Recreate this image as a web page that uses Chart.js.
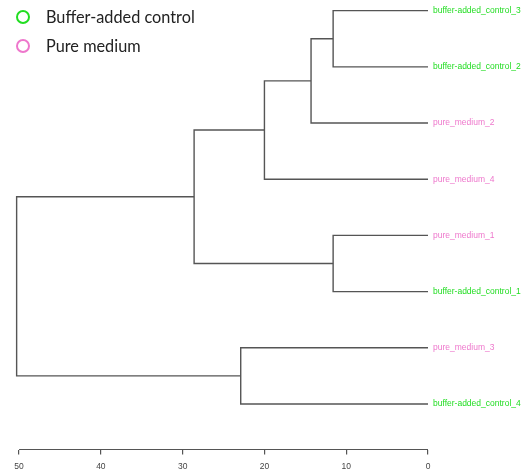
<!DOCTYPE html>
<html>
<head>
<meta charset="utf-8">
<script src="https://cdn.jsdelivr.net/npm/chart.js@4/dist/chart.umd.min.js"></script>
<style>
  body { margin: 0; background: #fff; }
  #wrap { position: relative; width: 529px; height: 475px; }
  #legend { position: absolute; left: 16px; top: 2px; font-family: Lato, "Open Sans", sans-serif; font-size: 16.3px; color: #222; }
  .item { display: flex; align-items: center; height: 29px; }
  .dot { width: 10px; height: 10px; border-radius: 50%; border: 2.2px solid; margin-right: 16px; }
</style>
</head>
<body>
<div id="wrap">
  <canvas id="dendro" width="529" height="475"></canvas>
  <div id="legend">
    <div class="item"><span class="dot" style="border-color:#22dd22"></span>Buffer-added control</div>
    <div class="item"><span class="dot" style="border-color:#ee77cc"></span>Pure medium</div>
  </div>
</div>
<script>
// leaves, top to bottom
const leaves = ['buffer-added_control_3', 'buffer-added_control_2', 'pure_medium_2', 'pure_medium_4',
                'pure_medium_1', 'buffer-added_control_1', 'pure_medium_3', 'buffer-added_control_4'];
const leafGroup = ['control', 'control', 'medium', 'medium', 'medium', 'control', 'medium', 'control'];
// merges, hclust style: negative = leaf (1-based), positive = earlier merge
const mergeLeft = [-1, 1, 2, -5, 3, -7, 5];
const mergeRight = [-2, -3, -4, -6, 4, -8, 6];
const mergeHeight = [11.6, 14.3, 20.0, 11.6, 28.6, 22.9, 50.3];
const xTicks = [0, 10, 20, 30, 40, 50];

const groupColor = { control: '#22dd22', medium: '#ee77cc' };

// build U-shaped links from the merge table
const nodeY = [], nodeH = [];
function pos(ref) {
  if (ref < 0) return { y: -ref - 1, h: 0 };
  return { y: nodeY[ref - 1], h: nodeH[ref - 1] };
}
const datasets = mergeHeight.map(function(h, i) {
  const a = pos(mergeLeft[i]), b = pos(mergeRight[i]);
  nodeY.push((a.y + b.y) / 2);
  nodeH.push(h);
  return {
    data: [{ x: a.h, y: a.y }, { x: h, y: a.y }, { x: h, y: b.y }, { x: b.h, y: b.y }],
    showLine: true,
    borderColor: '#555',
    borderWidth: 1.4,
    pointRadius: 0,
    fill: false,
    clip: false
  };
});

// axis line only from first to last tick
const axisLine = {
  id: 'axisLine',
  afterDatasetsDraw(chart) {
    const x = chart.scales.x, ctx = chart.ctx;
    const yb = chart.chartArea.bottom;
    ctx.save();
    ctx.strokeStyle = '#555';
    ctx.lineWidth = 1.2;
    ctx.beginPath();
    ctx.moveTo(x.getPixelForValue(50), yb);
    ctx.lineTo(x.getPixelForValue(0), yb);
    ctx.stroke();
    ctx.restore();
  }
};

new Chart(document.getElementById('dendro'), {
  type: 'scatter',
  data: { datasets: datasets },
  plugins: [axisLine],
  options: {
    responsive: false,
    animation: false,
    layout: { padding: { left: 15, top: 0, right: 0, bottom: 0 } },
    plugins: { legend: { display: false }, tooltip: { enabled: false } },
    scales: {
      x: {
        type: 'linear',
        reverse: true,
        min: 0,
        max: 50.5,
        afterBuildTicks: function(scale) {
          scale.ticks = xTicks.map(v => ({ value: v }));
        },
        afterFit: function(scale) { scale.height = 25.5; },
        border: { display: false },
        grid: { drawOnChartArea: false, drawTicks: true, tickLength: 5, color: '#555', lineWidth: 1.2 },
        ticks: { font: { family: 'Liberation Sans', size: 8.5 }, color: '#444', padding: 7, maxRotation: 0 }
      },
      y: {
        type: 'linear',
        position: 'right',
        reverse: true,
        min: -0.01,
        max: 7.81,
        afterBuildTicks: function(scale) {
          scale.ticks = leaves.map((_, i) => ({ value: i }));
        },
        afterFit: function(scale) { scale.width = 101; },
        border: { display: false },
        grid: { display: false, drawTicks: false },
        ticks: {
          padding: 5,
          font: { family: 'Liberation Sans', size: 8.5 },
          color: function(c) { return groupColor[leafGroup[c.tick.value]]; },
          callback: function(v) { return leaves[v]; }
        }
      }
    }
  }
});
</script>
</body>
</html>
